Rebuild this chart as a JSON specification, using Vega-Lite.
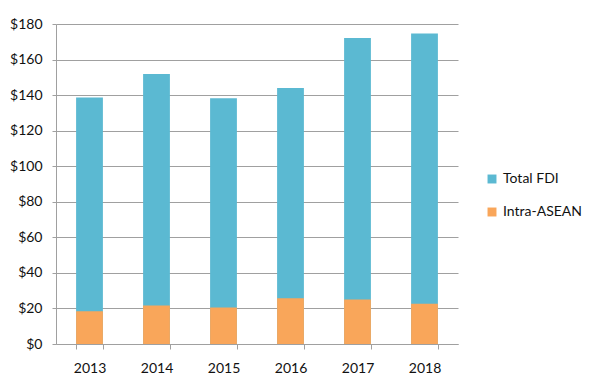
{
  "$schema": "https://vega.github.io/schema/vega-lite/v6.json",
  "width": 402,
  "height": 320,
  "autosize": {"type": "none"},
  "padding": {"left": 56, "top": 24, "right": 137, "bottom": 47},
  "background": "white",
  "config": {
    "font": "Lato",
    "view": {"stroke": null},
    "axis": {"labelFont": "Lato", "labelFontSize": 14, "labelColor": "#111"}
  },
  "data": {
    "values": [
      {"year": "2013", "series": "Total FDI", "value": 138.6},
      {"year": "2014", "series": "Total FDI", "value": 151.9},
      {"year": "2015", "series": "Total FDI", "value": 138.2},
      {"year": "2016", "series": "Total FDI", "value": 144.0},
      {"year": "2017", "series": "Total FDI", "value": 172.1},
      {"year": "2018", "series": "Total FDI", "value": 174.6},
      {"year": "2013", "series": "Intra-ASEAN", "value": 18.4},
      {"year": "2014", "series": "Intra-ASEAN", "value": 21.6},
      {"year": "2015", "series": "Intra-ASEAN", "value": 20.6},
      {"year": "2016", "series": "Intra-ASEAN", "value": 25.7},
      {"year": "2017", "series": "Intra-ASEAN", "value": 25.1},
      {"year": "2018", "series": "Intra-ASEAN", "value": 22.7}
    ]
  },
  "mark": {"type": "bar"},
  "encoding": {
    "x": {
      "field": "year",
      "type": "nominal",
      "scale": {"paddingInner": 0.6, "paddingOuter": 0.3},
      "axis": {
        "title": null,
        "labelAngle": 0,
        "domainColor": "#a0a0a0",
        "tickColor": "#a0a0a0",
        "tickSize": 5,
        "tickBand": "extent",
        "labelPadding": 12
      }
    },
    "y": {
      "field": "value",
      "type": "quantitative",
      "stack": null,
      "scale": {"domain": [0, 180]},
      "axis": {
        "title": null,
        "values": [0, 20, 40, 60, 80, 100, 120, 140, 160, 180],
        "labelOverlap": false,
        "format": "$.0f",
        "grid": true,
        "gridColor": "#a0a0a0",
        "domainColor": "#a0a0a0",
        "tickColor": "#a0a0a0",
        "tickSize": 4,
        "labelPadding": 10
      }
    },
    "color": {
      "field": "series",
      "type": "nominal",
      "scale": {"domain": ["Total FDI", "Intra-ASEAN"], "range": ["#5BB9D2", "#F9A65A"]},
      "legend": {
        "title": null,
        "orient": "none",
        "legendX": 429,
        "legendY": 148,
        "symbolType": "square",
        "symbolSize": 80,
        "symbolStrokeWidth": 0,
        "labelFontSize": 14,
        "labelFont": "Lato",
        "labelColor": "#111",
        "rowPadding": 19,
        "labelOffset": 4
      }
    },
    "order": {"field": "series", "sort": "descending"}
  }
}
